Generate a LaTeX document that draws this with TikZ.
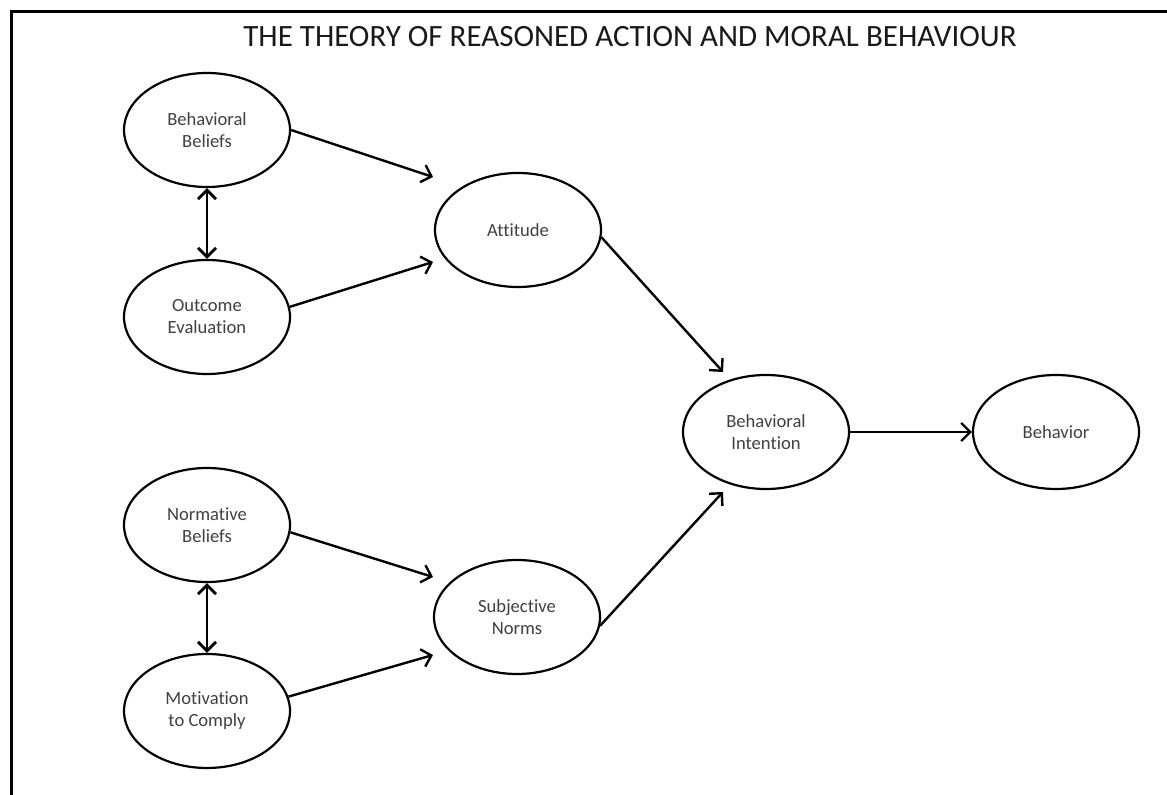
\documentclass[tikz,border=0pt]{standalone}
\usepackage{fontspec}
\setmainfont{Carlito}[Ligatures={NoCommon}]
\usetikzlibrary{shapes,arrows.meta,positioning,calc}

\begin{document}
\begin{tikzpicture}[x=0.5pt, y=-0.5pt,
    factor/.style={ellipse, draw, line width=1.1pt, minimum width=83pt, minimum height=57pt,
        inner sep=0pt, align=center, text=black!75, font=\fontsize{9.3}{11}\selectfont},
    link/.style={-{Straight Barb[length=4.5pt,width=9pt]}, line width=1.2pt},
    both/.style={{Straight Barb[length=4.5pt,width=9pt]}-{Straight Barb[length=4.5pt,width=9pt]}, line width=1.4pt}]
    \useasboundingbox (0,0) rectangle (1167,795);

    % Frame
    \draw [line width=1.5pt] (11,795) -- (11,12) -- (1167,12);

    % Title
    \node (title) [anchor=base, text=black!90, font=\fontsize{15.5}{18}\selectfont] at (630,47)
        {THE THEORY OF REASONED ACTION AND MORAL BEHAVIOUR};

    % Factors
    \node (bb) [factor] at (207,130) {Behavioral\\Beliefs};
    \node (oe) [factor] at (207,317) {Outcome\\Evaluation};
    \node (nb) [factor] at (207,525) {Normative\\Beliefs};
    \node (mc) [factor] at (207,711) {Motivation\\to Comply};
    \node (att) [factor] at (518,230) {Attitude};
    \node (sn) [factor] at (517,617) {Subjective\\Norms};
    \node (bi) [factor] at (766,432) {Behavioral\\Intention};
    \node (beh) [factor] at (1056,432) {Behavior};

    % Arrow tips
    \coordinate (att-in1) at ($(att)+(-85,-53)$);
    \coordinate (att-in2) at ($(att)+(-85,32)$);
    \coordinate (sn-in1) at ($(sn)+(-84,-40)$);
    \coordinate (sn-in2) at ($(sn)+(-84,38)$);
    \coordinate (bi-in1) at ($(bi)+(-43,-60)$);
    \coordinate (bi-in2) at ($(bi)+(-43,60)$);

    % Links
    \draw [link] (bb.east) -- (att-in1);
    \draw [link] (oe.7) -- (att-in2);
    \draw [link] (nb.-5) -- (sn-in1);
    \draw [link] (mc.10) -- (sn-in2);
    \draw [link] (att.-5) -- (bi-in1);
    \draw [link] (sn.-6) -- (bi-in2);
    \draw [link] (bi.east) -- (beh.west);
    \draw [both] (bb.south) -- (oe.north);
    \draw [both] (nb.south) -- (mc.north);
\end{tikzpicture}
\end{document}
